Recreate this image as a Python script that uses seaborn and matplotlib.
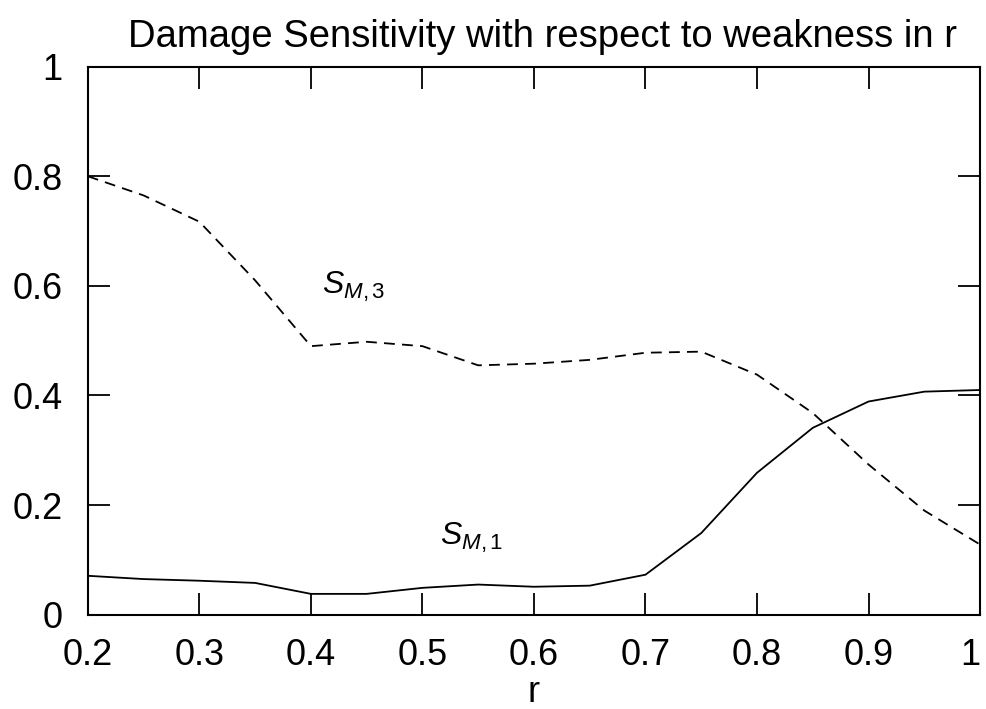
import pandas as pd
import matplotlib
matplotlib.use("Agg")
import matplotlib.pyplot as plt
import seaborn as sns

r_values = [0.2, 0.25, 0.3, 0.35, 0.4, 0.45, 0.5, 0.55, 0.6, 0.65, 0.7, 0.75, 0.8, 0.85, 0.9, 0.95, 1.0]
s_m1 = [0.071, 0.065, 0.062, 0.058, 0.038, 0.038, 0.049, 0.055, 0.051, 0.053, 0.073, 0.149, 0.259, 0.341, 0.389, 0.407, 0.41]
s_m3 = [0.80, 0.765, 0.717, 0.61, 0.49, 0.498, 0.49, 0.455, 0.458, 0.465, 0.478, 0.48, 0.438, 0.368, 0.274, 0.19, 0.128]
x_ticks = [0.2, 0.3, 0.4, 0.5, 0.6, 0.7, 0.8, 0.9, 1.0]
x_tick_labels = ["0.2", "0.3", "0.4", "0.5", "0.6", "0.7", "0.8", "0.9", "1"]
y_ticks = [0, 0.2, 0.4, 0.6, 0.8, 1.0]
y_tick_labels = ["0", "0.2", "0.4", "0.6", "0.8", "1"]


def main():
    sns.set_style("ticks")
    plt.rcParams["font.family"] = ["Liberation Sans", "DejaVu Sans"]
    plt.rcParams["mathtext.fontset"] = "custom"
    plt.rcParams["mathtext.it"] = "Liberation Sans:italic"
    plt.rcParams["mathtext.rm"] = "Liberation Sans"
    plt.rcParams["text.color"] = "black"

    df = pd.DataFrame({"r": r_values, "s1": s_m1, "s3": s_m3})

    fig = plt.figure(figsize=(9.87, 7.09), dpi=100)
    ax = fig.add_axes([0.089, 0.133, 0.904, 0.773])

    sns.lineplot(data=df, x="r", y="s3", ax=ax, color="black", linewidth=1.3)
    ax.lines[-1].set_dashes([6, 4])
    sns.lineplot(data=df, x="r", y="s1", ax=ax, color="black", linewidth=1.3)

    ax.set_xlim(0.2, 1.0)
    ax.set_ylim(0, 1)
    ax.set_xticks(x_ticks)
    ax.set_xticklabels(x_tick_labels)
    ax.set_yticks(y_ticks)
    ax.set_yticklabels(y_tick_labels)
    ax.tick_params(direction="in", length=16, width=1.3, labelsize=26,
                   top=True, right=True, colors="black")
    ax.tick_params(axis="x", pad=17)
    ax.tick_params(axis="y", pad=18)
    ax.get_xticklabels()[-1].set_horizontalalignment("right")
    for s in ax.spines.values():
        s.set_linewidth(1.5)
        s.set_color("black")

    ax.set_xlabel("r", fontsize=26, labelpad=1, color="black")
    ax.set_ylabel("")
    ax.set_title("Damage Sensitivity with respect to weakness in r",
                 fontsize=27.5, pad=14, color="black", x=0.51)

    ax.text(0.41, 0.585, r"$S_{M,3}$", fontsize=23)
    ax.text(0.516, 0.128, r"$S_{M,1}$", fontsize=23)

    fig.savefig("out.png", dpi=100, facecolor="white")


if __name__ == "__main__":
    main()
